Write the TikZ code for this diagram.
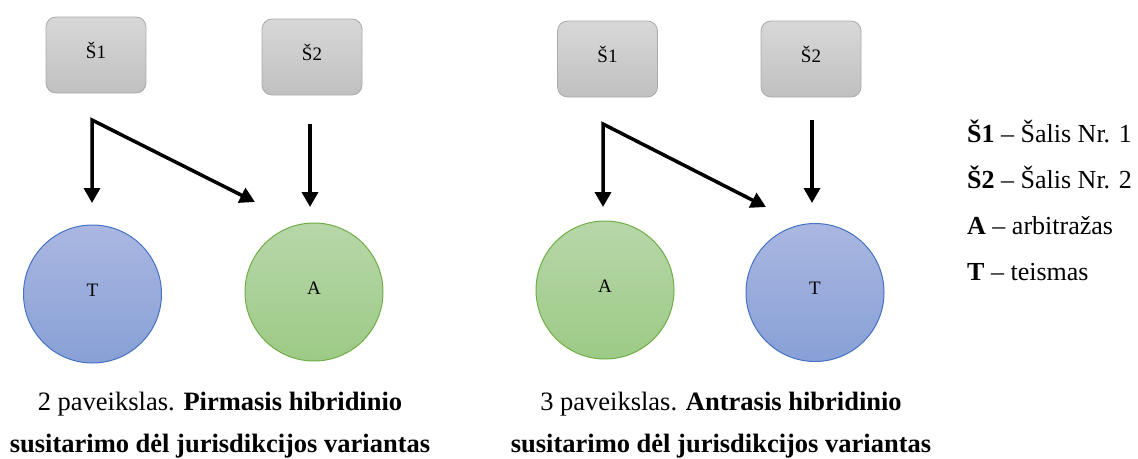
\documentclass[tikz,border=0pt]{standalone}
\usepackage{fontspec}
\setmainfont{Liberation Serif}
\usetikzlibrary{arrows.meta}
\definecolor{grayTop}{RGB}{216,216,216}
\definecolor{grayBot}{RGB}{192,192,192}
\definecolor{grayBorder}{RGB}{170,170,170}
\definecolor{blueTop}{RGB}{170,183,225}
\definecolor{blueBot}{RGB}{136,160,214}
\definecolor{blueBorder}{RGB}{68,114,196}
\definecolor{greenTop}{RGB}{183,215,169}
\definecolor{greenBot}{RGB}{157,202,134}
\definecolor{greenBorder}{RGB}{112,173,71}
\begin{document}
\begin{tikzpicture}[x=1pt,y=-1pt,
  country/.style={draw=grayBorder, line width=0.8pt, rounded corners=10pt,
    top color=grayTop, bottom color=grayBot, minimum width=100pt, minimum height=76pt,
    inner sep=0pt, font=\fontsize{19}{19}\selectfont, text height=15pt, text depth=8pt},
  court/.style={circle, draw=blueBorder, line width=1pt, top color=blueTop, bottom color=blueBot,
    minimum size=138pt, inner sep=0pt, font=\fontsize{19}{19}\selectfont, text height=13pt, text depth=9pt},
  arbitr/.style={circle, draw=greenBorder, line width=1pt, top color=greenTop, bottom color=greenBot,
    minimum size=138pt, inner sep=0pt, font=\fontsize{19}{19}\selectfont, text height=13pt, text depth=9pt},
  flow/.style={line width=3.5pt, line join=miter, {Triangle[width=16pt,length=15pt]}-{Triangle[width=16pt,length=15pt]}},
  flowone/.style={line width=3.5pt, -{Triangle[width=16pt,length=15pt]}},
  caption/.style={anchor=base, inner sep=0pt, font=\fontsize{26.5}{26.5}\selectfont},
  legend/.style={anchor=base west, inner sep=0pt, font=\fontsize{26}{26}\selectfont}
]
\useasboundingbox (0,0) rectangle (1138,458);

% ---- Figure 2 ----
\node[country] (L1) at (96,55) {Š1};
\node[country] (L2) at (312,57) {Š2};
\node[court]  (LT) at (92.5,294) {T};
\node[arbitr] (LA) at (314,292) {A};
\coordinate (Lc) at (92,120);
\coordinate (Ld) at (92,203);
\coordinate (Le) at (255,202);
\coordinate (Ls) at (310,124);
\coordinate (Lf) at (310,207);
\draw[flow] (Ld) -- (Lc) -- (Le);
\draw[flowone] (Ls) -- (Lf);
\node[caption] (cap2a) at (220,410) {2 paveikslas. \textbf{Pirmasis hibridinio}};
\node[caption] (cap2b) at (220,452) {\textbf{susitarimo dėl jurisdikcijos variantas}};

% ---- Figure 3 ----
\node[country] (R1) at (607.5,59) {Š1};
\node[country] (R2) at (811,59) {Š2};
\node[arbitr] (RA) at (605,290) {A};
\node[court]  (RT) at (815,292.5) {T};
\coordinate (Rc) at (603,124);
\coordinate (Rd) at (603,207);
\coordinate (Re) at (766,207);
\coordinate (Rs) at (812,120);
\coordinate (Rf) at (812,203);
\draw[flow] (Rd) -- (Rc) -- (Re);
\draw[flowone] (Rs) -- (Rf);
\node[caption] (cap3a) at (721,410) {3 paveikslas. \textbf{Antrasis hibridinio}};
\node[caption] (cap3b) at (721,452) {\textbf{susitarimo dėl jurisdikcijos variantas}};

% ---- Legend ----
\node[legend] (lg1) at (967,142) {\textbf{Š1} – Šalis Nr. 1};
\node[legend] (lg2) at (967,188) {\textbf{Š2} – Šalis Nr. 2};
\node[legend] (lg3) at (967,234) {\textbf{A} – arbitražas};
\node[legend] (lg4) at (967,280) {\textbf{T} – teismas};
\end{tikzpicture}
\end{document}
